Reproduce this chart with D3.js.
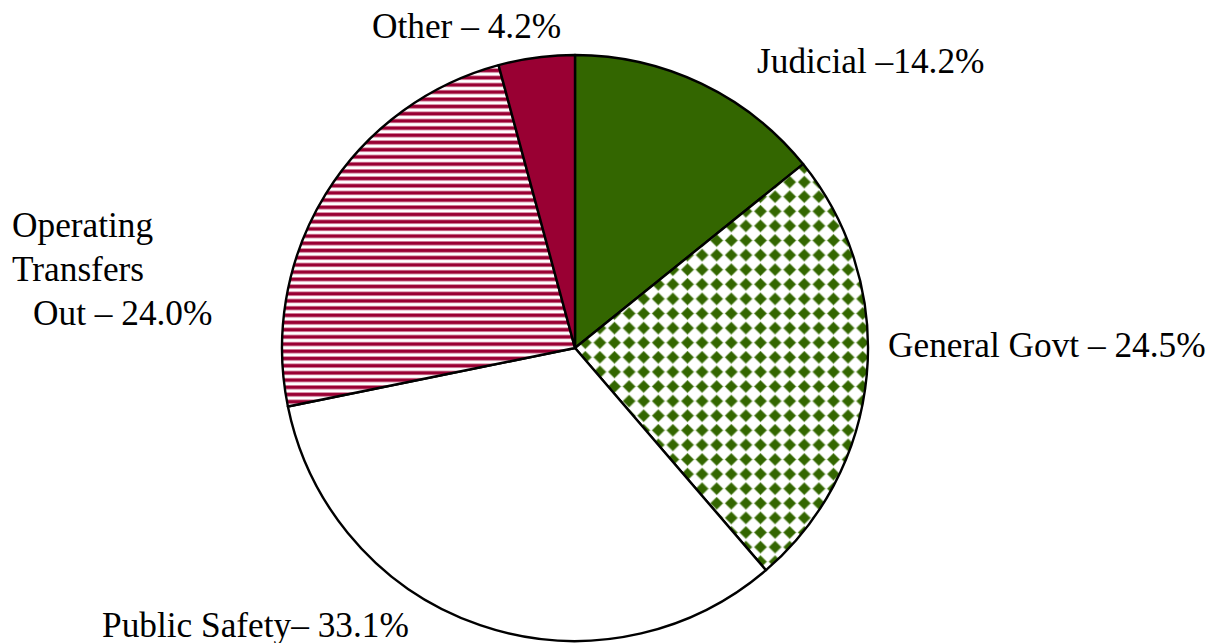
<!DOCTYPE html>
<html>
<head>
<meta charset="utf-8">
<script src="https://cdn.jsdelivr.net/npm/d3@7/dist/d3.min.js"></script>
<style>
  html, body { margin: 0; padding: 0; background: #fff; }
  svg { display: block; }
  text { font-family: "Liberation Serif", "Times New Roman", serif; fill: #000; }
</style>
</head>
<body>
<svg id="chart" width="1212" height="643"></svg>
<script>
// Expenditure shares (percent), clockwise from 12 o'clock
const categories = ["Judicial", "General Govt", "Public Safety", "Operating Transfers Out", "Other"];
const shares = [14.2, 24.5, 33.1, 24.0, 4.2];
// Label text: lines before the value line, and the prefix printed in front of the value
const labelLeadLines = [[], [], [], ["Operating", "Transfers"], []];
const labelPrefixes = ["Judicial \u2013", "General Govt \u2013 ", "Public Safety\u2013 ", "Out \u2013 ", "Other \u2013 "];
const fills = ["#336600", "url(#diamonds)", "#ffffff", "url(#stripes)", "#990033"];

const svg = d3.select("#chart");
const defs = svg.append("defs");

// Green diamond lattice
const dp = 14.6;
const diamonds = defs.append("pattern")
  .attr("id", "diamonds").attr("patternUnits", "userSpaceOnUse")
  .attr("width", dp).attr("height", dp).attr("x", 3).attr("y", 2);
diamonds.append("rect").attr("width", dp).attr("height", dp).attr("fill", "#fff");
const h = dp * 0.42;
diamonds.append("path")
  .attr("d", `M${dp/2},${dp/2 - h} L${dp/2 + h},${dp/2} L${dp/2},${dp/2 + h} L${dp/2 - h},${dp/2} Z`)
  .attr("fill", "#336600").attr("stroke", "#5d8a33").attr("stroke-width", 0.8)
  .attr("stroke-linejoin", "round");

// Crimson horizontal stripes
const sp = 7.2;
const stripes = defs.append("pattern")
  .attr("id", "stripes").attr("patternUnits", "userSpaceOnUse")
  .attr("width", 20).attr("height", sp).attr("x", 0).attr("y", 1);
stripes.append("rect").attr("width", 20).attr("height", sp).attr("fill", "#fff");
stripes.append("rect").attr("y", 0).attr("width", 20).attr("height", 4.6).attr("fill", "#d98ca6");
stripes.append("rect").attr("y", 0.8).attr("width", 20).attr("height", 3).attr("fill", "#990033");

const cx = 575, cy = 348, r = 293;

const pie = d3.pie().sort(null).value(d => d)
  .startAngle(0).endAngle(2 * Math.PI);
const arc = d3.arc().innerRadius(0).outerRadius(r);

const g = svg.append("g").attr("transform", `translate(${cx},${cy})`);
g.selectAll("path.slice")
  .data(pie(shares))
  .join("path")
  .attr("class", "slice")
  .attr("d", arc)
  .attr("fill", (d, i) => fills[i])
  .attr("stroke", "#000")
  .attr("stroke-width", 2.4)
  .attr("stroke-linejoin", "round");

// Label anchors (left x, baseline y of the first line)
const labelPos = [
  [757, 73], [888, 357], [102, 637], [12, 237], [372, 38]
];
const lineGap = 44;

const labels = svg.append("g").attr("font-size", 35.3);
categories.forEach((c, i) => {
  const lines = labelLeadLines[i].slice();
  lines.push(labelPrefixes[i] + shares[i].toFixed(1) + "%");
  const t = labels.append("text")
    .attr("x", labelPos[i][0]).attr("y", labelPos[i][1]);
  lines.forEach((ln, k) => {
    const isLast = k === lines.length - 1;
    t.append("tspan")
      .attr("x", labelPos[i][0] + (isLast && lines.length > 1 ? 21 : 0))
      .attr("y", labelPos[i][1] + k * lineGap)
      .text(ln);
  });
});
</script>
</body>
</html>
